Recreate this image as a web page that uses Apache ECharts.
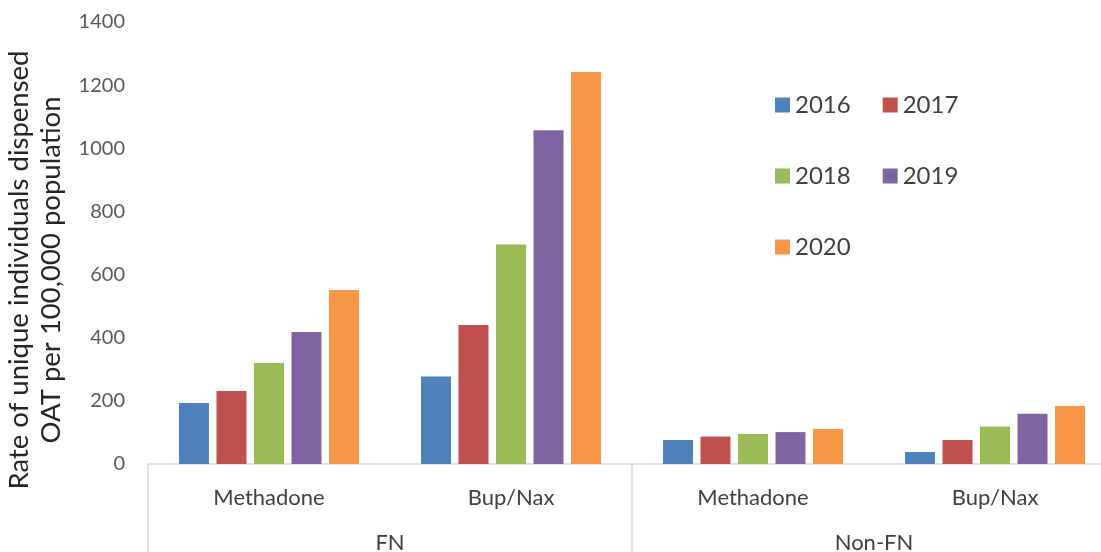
<!DOCTYPE html>
<html>
<head>
<meta charset="utf-8">
<script src="https://cdn.jsdelivr.net/npm/echarts@6/dist/echarts.min.js"></script>
<style>
html,body{margin:0;padding:0;background:#fff;overflow:hidden;}
#chart{width:1101px;height:552px;}
</style>
</head>
<body>
<div id="chart"></div>
<script>
const drugs = ['Methadone', 'Bup/Nax', 'Methadone', 'Bup/Nax'];
const groups = ['FN', 'Non-FN'];
const years = ['2016', '2017', '2018', '2019', '2020'];
const v2016 = [193, 277, 76, 38];
const v2017 = [231, 440, 87, 76];
const v2018 = [320, 695, 95, 119];
const v2019 = [418, 1057, 101, 159];
const v2020 = [551, 1242, 111, 184];
const yTicks = [0, 200, 400, 600, 800, 1000, 1200, 1400];
const colors = ['#4F81BD', '#C0504D', '#9BBB59', '#8064A2', '#F79646'];
const values = [v2016, v2017, v2018, v2019, v2020];

const FONT = 'Lato';
const chart = echarts.init(document.getElementById('chart'));

const legendBase = {
  left: 770, itemWidth: 15, itemHeight: 15, itemGap: 32,
  icon: 'rect',
  textStyle: { fontFamily: FONT, fontSize: 24, color: '#404040' }
};

chart.setOption({
  animation: false,
  color: colors,
  grid: { left: 148, width: 968, top: 22, height: 442, containLabel: false,
    outerBoundsMode: 'none' },
  legend: [
    Object.assign({}, legendBase, { top: 88, data: [years[0], years[1]] }),
    Object.assign({}, legendBase, { top: 159, data: [years[2], years[3]] }),
    Object.assign({}, legendBase, { top: 230, data: [years[4]] })
  ],
  xAxis: [
    {
      type: 'category', data: drugs, position: 'bottom',
      axisLine: { show: true, lineStyle: { color: '#D9D9D9', width: 1.5 } },
      axisTick: { show: false },
      axisLabel: { margin: 23, fontFamily: FONT, fontSize: 22, color: '#404040' }
    },
    {
      type: 'category', data: groups, position: 'bottom', offset: 0,
      axisLine: { show: false },
      axisTick: { show: true, length: 88, lineStyle: { color: '#D9D9D9', width: 1.5 } },
      axisLabel: { margin: 68, fontFamily: FONT, fontSize: 22, color: '#404040' }
    }
  ],
  yAxis: {
    type: 'value', min: yTicks[0], max: yTicks[yTicks.length - 1], interval: 200,
    axisLine: { show: false }, axisTick: { show: false },
    splitLine: { show: false },
    axisLabel: { margin: 23, fontFamily: FONT, fontSize: 20, color: '#595959',
      formatter: v => String(v) }
  },
  graphic: [{
    type: 'text', x: 35, y: 270, rotation: Math.PI / 2,
    style: {
      text: 'Rate of unique individuals dispensed\nOAT per 100,000 population',
      fontFamily: FONT, fontSize: 27.5, fill: '#262626', lineHeight: 32,
      align: 'center', verticalAlign: 'middle'
    }
  }],
  series: years.map((y, i) => ({
    name: y, type: 'bar', xAxisIndex: 0, data: values[i],
    barWidth: 30, barGap: '25%',
    itemStyle: { color: colors[i] }
  }))
});
</script>
</body>
</html>
